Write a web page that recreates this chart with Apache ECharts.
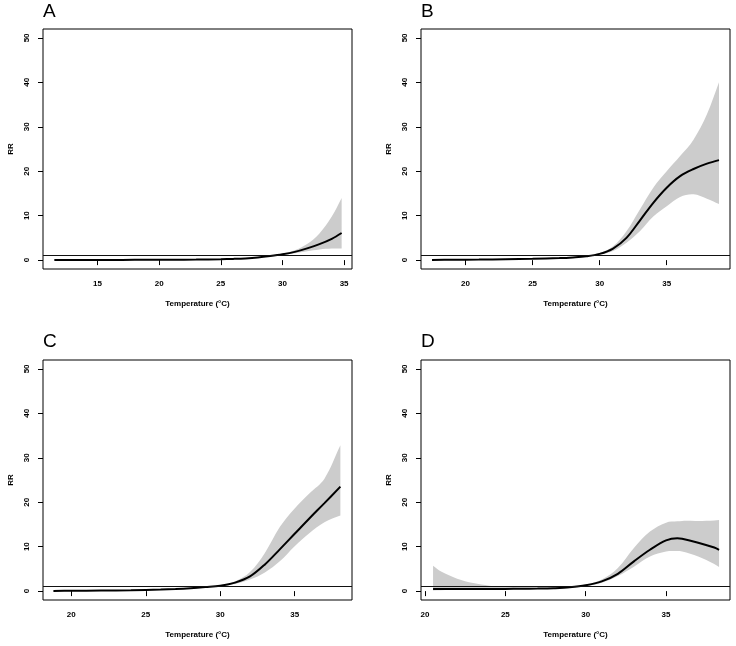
<!DOCTYPE html>
<html>
<head>
<meta charset="utf-8">
<script src="https://cdn.jsdelivr.net/npm/echarts@6/dist/echarts.min.js"></script>
<style>
html,body{margin:0;padding:0;background:#fff;}
#chart{width:736px;height:646px;}
</style>
</head>
<body>
<div id="chart"></div>
<script>
// ---------- data ----------
const panelLabels = ['A', 'B', 'C', 'D'];
const yTicks = [0, 10, 20, 30, 40, 50];

// Panel A
const tempA = [11.5, 13, 15, 17, 19, 21, 23, 25, 26, 27, 28, 29, 30, 31, 32, 33, 34, 34.8];
const rrA   = [0.03, 0.03, 0.04, 0.05, 0.06, 0.08, 0.12, 0.2, 0.27, 0.38, 0.58, 0.9, 1.3, 1.85, 2.65, 3.6, 4.8, 6.1];
const loA   = [0.01, 0.01, 0.02, 0.03, 0.04, 0.05, 0.09, 0.16, 0.23, 0.33, 0.52, 0.83, 1.15, 1.55, 2.0, 2.4, 2.6, 2.6];
const hiA   = [0.08, 0.07, 0.07, 0.08, 0.09, 0.11, 0.16, 0.25, 0.32, 0.44, 0.65, 0.98, 1.45, 2.2, 3.6, 6.0, 9.8, 14.0];
const xTicksA = [15, 20, 25, 30, 35];

// Panel B
const tempB = [17.5, 19, 21, 23, 25, 27, 28, 29, 30, 31, 32, 33, 34, 35, 36, 37, 38, 38.9];
const rrB   = [0.05, 0.07, 0.12, 0.2, 0.3, 0.45, 0.6, 0.85, 1.4, 2.6, 5.0, 8.9, 12.9, 16.3, 18.9, 20.5, 21.7, 22.5];
const loB   = [0.02, 0.04, 0.08, 0.15, 0.24, 0.38, 0.52, 0.76, 1.2, 2.05, 3.9, 6.5, 9.8, 12.1, 14.2, 14.8, 13.8, 12.6];
const hiB   = [0.1, 0.11, 0.17, 0.26, 0.37, 0.53, 0.69, 0.95, 1.6, 3.1, 6.5, 11.4, 16.3, 20.0, 23.4, 27.1, 32.8, 40.0];
const xTicksB = [20, 25, 30, 35];

// Panel C
const tempC = [18.8, 20, 22, 24, 26, 27, 28, 29, 30, 31, 32, 33, 34, 35, 36, 37, 38.07];
const rrC   = [0.05, 0.07, 0.12, 0.2, 0.35, 0.47, 0.65, 0.9, 1.2, 1.9, 3.3, 6.0, 9.4, 12.9, 16.4, 19.8, 23.5];
const loC   = [0.02, 0.04, 0.08, 0.15, 0.3, 0.41, 0.58, 0.82, 1.1, 1.6, 2.6, 4.2, 6.7, 10.1, 13.1, 15.5, 17.0];
const hiC   = [0.09, 0.1, 0.16, 0.26, 0.42, 0.54, 0.72, 0.98, 1.3, 2.2, 4.3, 8.6, 14.4, 18.6, 22.0, 25.3, 32.8];
const xTicksC = [20, 25, 30, 35];

// Panel D
const tempD = [20.5, 21, 22, 23, 24, 25, 26, 27, 28, 29, 30, 31, 32, 33, 34, 35, 35.7, 36, 37, 38, 38.3];
const rrD   = [0.5, 0.5, 0.5, 0.5, 0.5, 0.5, 0.52, 0.56, 0.65, 0.85, 1.3, 2.2, 3.9, 6.7, 9.3, 11.4, 11.9, 11.8, 10.9, 9.8, 9.3];
const loD   = [0.15, 0.2, 0.28, 0.33, 0.36, 0.38, 0.42, 0.47, 0.55, 0.72, 1.1, 1.9, 3.4, 5.5, 7.8, 8.9, 9.0, 8.9, 7.8, 6.1, 5.4];
const hiD   = [5.7, 4.4, 2.8, 1.8, 1.2, 0.9, 0.8, 0.8, 0.85, 1.0, 1.5, 2.6, 5.2, 9.7, 13.4, 15.4, 15.7, 15.8, 15.8, 15.9, 16.0];
const xTicksD = [20, 25, 30, 35];

const xLabel = 'Temperature (°C)';
const yLabel = 'RR';
const refLine = 1;

// ---------- layout / style ----------
const FONT = '"Liberation Sans", Arial, Helvetica, sans-serif';
const panels = [
  {t: tempA, rr: rrA, lo: loA, hi: hiA, ticks: xTicksA, xmin: 10.58, xmax: 35.64, left: 43,  top: 29,  lx: 43,  ly: 11.5},
  {t: tempB, rr: rrB, lo: loB, hi: hiB, ticks: xTicksB, xmin: 16.68, xmax: 39.72, left: 421, top: 29,  lx: 421, ly: 11.5},
  {t: tempC, rr: rrC, lo: loC, hi: hiC, ticks: xTicksC, xmin: 18.10, xmax: 38.85, left: 43,  top: 360, lx: 43,  ly: 342},
  {t: tempD, rr: rrD, lo: loD, hi: hiD, ticks: xTicksD, xmin: 19.75, xmax: 38.98, left: 421, top: 360, lx: 421, ly: 342}
];

const grids = [], xAxes = [], yAxes = [], series = [], graphics = [];
const labelStyle = {color: '#000', fontSize: 8, fontWeight: 'bold', fontFamily: FONT};
const SMOOTH = 0.35;

// Bezier smoothing of pixel points (same scheme as ECharts line smoothing)
function smoothSegments(pts, smooth) {
  let d = '';
  const n = pts.length;
  const cps = pts.map((p, i) => {
    const prev = pts[i - 1] || p, next = pts[i + 1] || p;
    const vx = next[0] - prev[0], vy = next[1] - prev[1];
    const l0 = Math.hypot(p[0] - prev[0], p[1] - prev[1]);
    const l1 = Math.hypot(next[0] - p[0], next[1] - p[1]);
    const s = l0 + l1;
    const r1 = s ? l1 / s : 0, r0 = s ? l0 / s : 0;
    return {
      inC: [p[0] - vx * smooth * r0, p[1] - vy * smooth * r0],
      outC: [p[0] + vx * smooth * r1, p[1] + vy * smooth * r1]
    };
  });
  for (let i = 0; i < n - 1; i++) {
    const a = cps[i].outC, b = cps[i + 1].inC, q = pts[i + 1];
    d += ' C' + a[0].toFixed(2) + ' ' + a[1].toFixed(2) + ' ' + b[0].toFixed(2) + ' ' + b[1].toFixed(2) + ' ' + q[0].toFixed(2) + ' ' + q[1].toFixed(2);
  }
  return d;
}

function bandRenderer(params, api) {
  if (params.dataIndex !== 0) return null;
  const n = params.dataInsideLength !== undefined ? null : null;
  const rows = [];
  const cnt = api.getDataCount ? null : null;
  return null;
}

panels.forEach((p, i) => {
  grids.push({left: p.left, top: p.top, width: 309, height: 240, show: true,
    borderColor: '#000', borderWidth: 1, backgroundColor: 'transparent', outerBoundsMode: 'none'});
  xAxes.push({type: 'value', gridIndex: i, min: p.xmin, max: p.xmax,
    axisLine: {show: false}, splitLine: {show: false},
    axisTick: {show: true, inside: false, length: 5, customValues: p.ticks, lineStyle: {color: '#000', width: 1}},
    axisLabel: Object.assign({show: true, margin: 11, customValues: p.ticks}, labelStyle),
    name: xLabel, nameLocation: 'middle', nameGap: 31,
    nameTextStyle: labelStyle});
  yAxes.push({type: 'value', gridIndex: i, min: -2, max: 52,
    axisLine: {show: false}, splitLine: {show: false},
    axisTick: {show: true, inside: false, length: 5, customValues: yTicks, lineStyle: {color: '#000', width: 1}},
    axisLabel: Object.assign({show: true, margin: 12, rotate: 90, customValues: yTicks}, labelStyle),
    name: yLabel, nameLocation: 'middle', nameGap: 28, nameRotate: 90,
    nameTextStyle: labelStyle});

  const bandData = p.t.map((x, k) => [x, p.lo[k], p.hi[k]]);
  const rrData = p.t.map((x, k) => [x, p.rr[k]]);
  // confidence band as one filled path, positioned through the axes (api.coord)
  series.push({type: 'custom', xAxisIndex: i, yAxisIndex: i, data: bandData,
    encode: {x: 0, y: [1, 2]}, silent: true, z: 1,
    renderItem: (params, api) => {
      if (params.dataIndex !== 0) return null;
      const top = bandData.map(r => api.coord([r[0], r[2]]));
      const bot = bandData.map(r => api.coord([r[0], r[1]])).reverse();
      let d = 'M' + top[0][0].toFixed(2) + ' ' + top[0][1].toFixed(2);
      d += smoothSegments(top, SMOOTH);
      d += ' L' + bot[0][0].toFixed(2) + ' ' + bot[0][1].toFixed(2);
      d += smoothSegments(bot, SMOOTH);
      d += ' Z';
      return {type: 'path', shape: {pathData: d}, style: {fill: '#cccccc', stroke: null}};
    }});
  series.push({type: 'line', xAxisIndex: i, yAxisIndex: i, data: rrData,
    smooth: SMOOTH, showSymbol: false, symbol: 'none', silent: true,
    lineStyle: {width: 2, color: '#000'}, z: 3,
    markLine: {silent: true, symbol: ['none', 'none'], label: {show: false},
      lineStyle: {color: '#111', type: 'solid', width: 1}, emphasis: {disabled: true},
      data: [{yAxis: refLine}]}});

  graphics.push({type: 'text', x: p.lx, y: p.ly, silent: true,
    style: {text: panelLabels[i], fill: '#000', font: '19px ' + FONT, align: 'left', verticalAlign: 'middle'}});
});

const chart = echarts.init(document.getElementById('chart'), null, {renderer: 'canvas'});
chart.setOption({
  backgroundColor: '#fff',
  animation: false,
  grid: grids,
  xAxis: xAxes,
  yAxis: yAxes,
  series: series,
  graphic: graphics
});
</script>
</body>
</html>
